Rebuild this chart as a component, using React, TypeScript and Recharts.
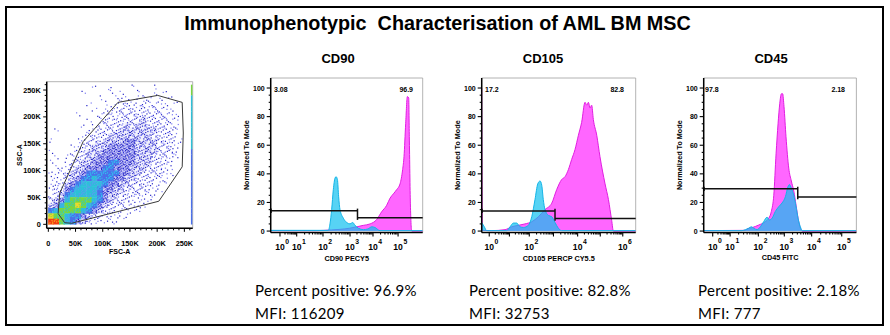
import React from 'react';
import {
  ScatterChart,
  Scatter,
  ComposedChart,
  Area,
  XAxis,
  YAxis,
  ReferenceLine,
  ReferenceArea,
} from 'recharts';

const FONT = '"Liberation Sans", Arial, sans-serif';

// FSC-A vs SSC-A density, read cell by cell (10K x 10K cells, level 0-9)
// rows go from SSC-A 255K (top) down to 5K, columns from FSC-A 5K to 255K
const DENSITY_ROWS = [
  '00000000100100010001000000',
  '00000010000101001001010000',
  '00000000010011101110101000',
  '00000001001011211211110100',
  '00000000101112121212111000',
  '00000100011212222222211100',
  '00000001012122222322221100',
  '00000010112222323322221100',
  '01000001122223333333222100',
  '00000011222333333332222100',
  '10000112223333443333222110',
  '00001122333444443333222100',
  '10001123334444443333222100',
  '01011223344444443332221100',
  '10012233444554443332221000',
  '01112334445544433322211000',
  '11123345555554433222211000',
  '11123455655544332222110000',
  '12134566665443322221110000',
  '12245666654433222211100000',
  '12356666654332222111000000',
  '23467777654322211110000000',
  '34677876543222111100000000',
  '56777765432211111000000000',
  '87765543221111100000000000',
  '99765432111110000000000000',
];
// events piled up on the FSC-A max channel, same rows
const EDGE_LEVELS = [7, 7, 6, 6, 6, 6, 6, 6, 6, 6, 6, 6, 5, 5, 5, 5, 5, 5, 5, 5, 5, 5, 5, 5, 5, 5];

const GATE = [
  { x: 21000, y: 58000 },
  { x: 64000, y: 154000 },
  { x: 128000, y: 227000 },
  { x: 201000, y: 240000 },
  { x: 246000, y: 227000 },
  { x: 248000, y: 170000 },
  { x: 246000, y: 107000 },
  { x: 203000, y: 43000 },
  { x: 43000, y: 2000 },
  { x: 30000, y: 3000 },
  { x: 18000, y: 20000 },
  { x: 21000, y: 58000 },
];

const SCATTER_MAJOR = [0, 50000, 100000, 150000, 200000, 250000];
const SCATTER_LABELS = ['0', '50K', '100K', '150K', '200K', '250K'];

// histograms: [channel, % of mode]
const CD90_SAMPLE = [
  [0, 0.3], [100, 0.3], [300, 0.3], [400, 0.8], [456, 1.2], [520, 2], [566, 3], [610, 4],
  [654, 5], [697, 8], [730, 13.5], [763, 18], [785, 23], [807, 26], [829, 29], [851, 33],
  [868, 43], [877, 52], [888, 75], [899, 94], [908, 93], [912, 66], [919, 19], [928, 0], [1000, 0],
];
const CD90_CONTROL = [
  [0, 0.5], [200, 0.5], [379, 0.5], [390, 5], [401, 15], [412, 29], [423, 37], [430, 38],
  [439, 36], [447, 24], [456, 15], [478, 9], [500, 6], [522, 5], [539, 6], [555, 4], [577, 2],
  [610, 1], [640, 1.5], [665, 3], [686, 2.5], [719, 0.3], [1000, 0.3],
];
const CD105_SAMPLE = [
  [0, 100], [4, 0.5], [65, 0.3], [152, 1], [195, 3], [238, 4], [281, 5], [325, 6.5], [368, 10],
  [411, 15], [455, 19.5], [487, 29], [519, 36], [541, 38], [563, 43], [584, 50], [606, 57],
  [628, 67], [649, 76], [671, 90], [682, 88], [693, 90], [703, 86], [714, 88], [725, 78],
  [747, 67], [768, 52], [801, 33], [823, 22], [844, 7.5], [855, 0], [1000, 0],
];
const CD105_CONTROL = [
  [0, 6], [17, 3], [32, 0.3], [162, 0.3], [184, 3], [206, 5.6], [227, 5.6], [249, 3], [271, 2.5],
  [303, 4], [325, 10], [346, 22], [364, 33], [379, 35], [390, 32], [400, 22], [411, 15],
  [433, 11], [455, 10], [476, 6], [498, 2], [519, 0.3], [1000, 0.3],
];
const CD45_SAMPLE = [
  [0, 0.3], [273, 0.5], [284, 1.5], [317, 2.4], [360, 4.2], [404, 6.6], [426, 9], [443, 13.7],
  [459, 25], [474, 54], [487, 75], [498, 89], [509, 96], [517, 96], [526, 87], [539, 66],
  [557, 44], [574, 35], [590, 28], [605, 18], [618, 9], [633, 2], [644, 0], [1000, 0],
];
const CD45_CONTROL = [
  [0, 0.3], [250, 0.3], [273, 1], [295, 2], [312, 3], [328, 2], [349, 1], [371, 3], [393, 6.6],
  [415, 9.7], [430, 7.8], [448, 9], [469, 13.7], [491, 17], [513, 19.6], [535, 24], [552, 31],
  [561, 32.5], [574, 30], [590, 25], [605, 17], [618, 9], [633, 3], [648, 0.3], [1000, 0.3],
];

// decade positions on the biexponential axis (channel units)
const CD90_DECADES = [61, 171, 344, 522, 673, 838];
const CD105_DECADES = [49, 180, 309, 466, 623, 770, 916];
const CD45_DECADES = [59, 173, 358, 528, 707, 904];

const Y_MAJOR = [0, 20, 40, 60, 80, 100];

// gates: [left level, right level, split channel]
const CD90_GATE = [14.2, 9.3, 571];
const CD105_GATE = [14.1, 8.7, 476];
const CD45_GATE = [29.5, 23.8, 616];

const PANEL_TITLES = ['CD90', 'CD105', 'CD45'];
const AXIS_TITLES = ['CD90 PECY5', 'CD105 PERCP CY5.5', 'CD45 FITC'];
const GATE_NEG = ['3.08', '17.2', '97.8'];
const GATE_POS = ['96.9', '82.8', '2.18'];
const PERCENT_POS = ['96.9%', '82.8%', '2.18%'];
const MFI = ['116209', '32753', '777'];

const toPoints = (rows: number[][]) => rows.map(([x, y]) => ({ x, y }));

// scatter geometry
const SC_X_DOMAIN = [-3000, 265300];
const SC_Y_DOMAIN = [-7400, 265500];
const SC_PLOT_W = 146;
const SC_PLOT_H = 146.6;
const CELL_W = (SC_PLOT_W * 10000) / (SC_X_DOMAIN[1] - SC_X_DOMAIN[0]);
const CELL_H = (SC_PLOT_H * 10000) / (SC_Y_DOMAIN[1] - SC_Y_DOMAIN[0]);

const densityCells: { x: number; y: number; level: number; row: number; col: number }[] = [];
DENSITY_ROWS.forEach((line, r) => {
  line.split('').forEach((ch, c) => {
    const level = Number(ch);
    if (level > 0) {
      densityCells.push({ x: c * 10000 + 5000, y: (25 - r) * 10000 + 5000, level, row: r, col: c });
    }
  });
});
const edgeCells = EDGE_LEVELS.map((level, r) => ({ x: 263500, y: (25 - r) * 10000 + 5000, level }));

const LEVEL_FILL = ['', '', '', '', '', '#4a70ea', '#2cc0d8', '#78d640', '#eed62a', '#f23c12'];
const LEVEL_SPECK = ['', '', '', '', '', '#2ec8ee', '#5a9cf0', '#38c8c0', '#90d840', '#f7a020'];
const SPECKLE = [
  [-0.3, -0.25], [0.28, 0.3], [0.05, -0.4], [-0.2, 0.22], [0.38, -0.08], [-0.42, 0.4],
  [0.02, 0.05], [0.4, 0.42], [-0.38, -0.05], [0.18, -0.2], [-0.1, -0.42], [0.3, 0.1],
];
const DOT_COUNT = [0, 2, 4, 7, 11];

const DensityCell = (props: any) => {
  const { cx, cy, payload } = props;
  const lv = payload.level;
  const seed = (payload.col * 7 + payload.row * 5) % SPECKLE.length;
  if (lv >= 5) {
    return (
      <g>
        <rect x={cx - CELL_W / 2 - 0.2} y={cy - CELL_H / 2 - 0.2} width={CELL_W + 0.4} height={CELL_H + 0.4} fill={LEVEL_FILL[lv]} />
        {[0, 1, 2, 3, 4, 5].map((k) => {
          const [fx, fy] = SPECKLE[(seed + k * 2) % SPECKLE.length];
          return <rect key={k} x={cx + fx * CELL_W - 0.6} y={cy + fy * CELL_H - 0.6} width={1.2} height={1.2} fill={LEVEL_SPECK[lv]} />;
        })}
      </g>
    );
  }
  const dots = [];
  for (let k = 0; k < DOT_COUNT[lv]; k++) {
    const [fx, fy] = SPECKLE[(seed + k) % SPECKLE.length];
    dots.push(
      <rect key={k} x={cx + fx * CELL_W - 0.6} y={cy + fy * CELL_H - 0.6} width={1.2} height={1.2} fill={k % 3 === 0 ? '#7b7bf2' : '#2626c8'} />
    );
  }
  return (
    <g>
      {lv >= 3 && <rect x={cx - CELL_W / 2} y={cy - CELL_H / 2} width={CELL_W} height={CELL_H} fill="#3a3ad8" fillOpacity={lv === 4 ? 0.26 : 0.08} />}
      {dots}
    </g>
  );
};

const EdgeCell = (props: any) => {
  const { cx, cy, payload } = props;
  return <rect x={cx - 0.8} y={cy - CELL_H / 2} width={1.6} height={CELL_H + 0.2} fill={LEVEL_FILL[payload.level]} />;
};

const scatterTicks: number[] = [];
for (let v = 0; v <= 260000; v += 10000) scatterTicks.push(v);

const ScatterXTick = (props: any) => {
  const { x, y, payload } = props;
  const i = SCATTER_MAJOR.indexOf(payload.value);
  return (
    <g>
      <line x1={x} x2={x} y1={y} y2={y + (i >= 0 ? 3.5 : 2)} stroke="#000" strokeWidth={1} />
      {i >= 0 && (
        <text x={x} y={y + 17.5} textAnchor="middle" fontSize={7.3} fontWeight="bold" fill="#000">
          {SCATTER_LABELS[i]}
        </text>
      )}
    </g>
  );
};

const ScatterYTick = (props: any) => {
  const { x, y, payload } = props;
  const i = SCATTER_MAJOR.indexOf(payload.value);
  return (
    <g>
      <line x1={x} x2={x - (i >= 0 ? 3.5 : 2)} y1={y} y2={y} stroke="#000" strokeWidth={1} />
      {i >= 0 && (
        <text x={x - 6} y={y + 2.6} textAnchor="end" fontSize={7.3} fontWeight="bold" fill="#000">
          {SCATTER_LABELS[i]}
        </text>
      )}
    </g>
  );
};

const yTicks: number[] = [];
for (let v = 0; v <= 100; v += 5) yTicks.push(v);

const HistYTick = (props: any) => {
  const { x, y, payload } = props;
  const major = Y_MAJOR.includes(payload.value);
  return (
    <g>
      <line x1={x} x2={x - (major ? 4 : 2)} y1={y} y2={y} stroke="#000" strokeWidth={1.1} />
      {major && (
        <text x={x - 6} y={y + 2.5} textAnchor="end" fontSize={7} fontWeight="bold" fill="#000">
          {payload.value}
        </text>
      )}
    </g>
  );
};

// minor ticks between decades, placed at log10(2..9)
const decadeTicks = (decades: number[]) => {
  const out: number[] = [...decades];
  for (let i = 0; i < decades.length - 1; i++) {
    for (let k = 2; k <= 9; k++) out.push(decades[i] + (decades[i + 1] - decades[i]) * Math.log10(k));
  }
  return out.sort((a, b) => a - b);
};

const makeLogTick = (decades: number[], labelStep: number) => (props: any) => {
  const { x, y, payload } = props;
  const e = decades.indexOf(payload.value);
  return (
    <g>
      <line x1={x} x2={x} y1={y} y2={y + (e >= 0 ? 4 : 2)} stroke="#000" strokeWidth={1.1} />
      {e >= 0 && e % labelStep === 0 && (
        <g fontWeight="bold" fill="#000">
          <text x={x} y={y + 17.5} textAnchor="middle" fontSize={8.6}>10</text>
          <text x={x + 5.3} y={y + 11} textAnchor="start" fontSize={6.8}>{e}</text>
        </g>
      )}
    </g>
  );
};

interface HistProps {
  left: number;
  width: number;
  sample: number[][];
  control: number[][];
  decades: number[];
  labelStep: number;
  gate: number[];
  xLabel: string;
}

const Histogram: React.FC<HistProps> = ({ left, width, sample, control, decades, labelStep, gate, xLabel }) => {
  const [gl, gr, split] = gate;
  return (
    <div style={{ position: 'absolute', left, top: 70 }}>
      <ComposedChart width={width} height={195} margin={{ top: 8, right: 4.3, left: 0, bottom: 4.5 }}>
        <XAxis
          type="number"
          dataKey="x"
          domain={[0, 1000]}
          allowDataOverflow
          ticks={decadeTicks(decades)}
          interval={0}
          tick={makeLogTick(decades, labelStep)}
          tickLine={false}
          tickSize={0}
          tickMargin={0}
          height={28}
          axisLine={{ stroke: '#000', strokeWidth: 1.5 }}
          label={{ value: xLabel, position: 'insideBottom', offset: 0, fontSize: 7.3, fontWeight: 'bold', fill: '#000' }}
        />
        <YAxis
          type="number"
          domain={[-1, 107]}
          allowDataOverflow
          ticks={yTicks}
          interval={0}
          tick={<HistYTick />}
          tickLine={false}
          tickSize={0}
          tickMargin={0}
          width={48.7}
          axisLine={{ stroke: '#000', strokeWidth: 1.5 }}
          label={{ value: 'Normalized To Mode', angle: -90, position: 'center', fontSize: 7.2, fontWeight: 'bold', fill: '#000' }}
        />
        <ReferenceArea x1={0} x2={1000} y1={-1} y2={107} fill="none" stroke="#a0a0a0" strokeWidth={0.8} />
        <Area
          data={toPoints(sample)}
          dataKey="y"
          type="monotone"
          stroke="#e01ee0"
          strokeWidth={1}
          fill="#ff66ff"
          fillOpacity={1}
          isAnimationActive={false}
        />
        <Area
          data={toPoints(control)}
          dataKey="y"
          type="monotone"
          stroke="#14b4e6"
          strokeWidth={1}
          fill="#10c0f0"
          fillOpacity={0.7}
          isAnimationActive={false}
        />
        <ReferenceLine segment={[{ x: 0, y: gl }, { x: split, y: gl }]} stroke="#111" strokeWidth={1.5} />
        <ReferenceLine segment={[{ x: split, y: gr }, { x: 1000, y: gr }]} stroke="#111" strokeWidth={1.5} />
        <ReferenceLine segment={[{ x: split, y: gr - 1.5 }, { x: split, y: gl + 1.5 }]} stroke="#111" strokeWidth={1.5} />
        <ReferenceLine segment={[{ x: 3, y: gl - 1.5 }, { x: 3, y: gl + 1.5 }]} stroke="#111" strokeWidth={1.2} />
      </ComposedChart>
    </div>
  );
};

const Txt: React.FC<{ x: number; y: number; size: number; bold?: boolean; anchor?: 'start' | 'middle' | 'end'; family?: string; spacing?: number; children: React.ReactNode }> = ({
  x, y, size, bold, anchor = 'start', family, spacing = 0, children,
}) => {
  const tx = anchor === 'middle' ? '-50%' : anchor === 'end' ? '-100%' : '0';
  return (
    <div
      style={{
        position: 'absolute',
        left: x,
        top: y,
        transform: `translate(${tx}, -50%)`,
        fontSize: size,
        fontWeight: bold ? 'bold' : 'normal',
        fontFamily: family || FONT,
        letterSpacing: spacing,
        lineHeight: 1,
        whiteSpace: 'pre',
        color: '#000',
      }}
    >
      {children}
    </div>
  );
};

const HIST_LAYOUT = [
  { left: 222, width: 205, title: 338, neg: 274, pos: 413, stats: 255 },
  { left: 433, width: 207, title: 543, neg: 485, pos: 624, stats: 469 },
  { left: 654.6, width: 205.7, title: 771, neg: 705, pos: 845, stats: 698 },
];
const HIST_DATA = [
  { sample: CD90_SAMPLE, control: CD90_CONTROL, decades: CD90_DECADES, labelStep: 1, gate: CD90_GATE },
  { sample: CD105_SAMPLE, control: CD105_CONTROL, decades: CD105_DECADES, labelStep: 2, gate: CD105_GATE },
  { sample: CD45_SAMPLE, control: CD45_CONTROL, decades: CD45_DECADES, labelStep: 1, gate: CD45_GATE },
];

export default function App() {
  return (
    <div style={{ position: 'absolute', left: 0, top: 0, width: 890, height: 335, background: '#fff', fontFamily: FONT }}>
      <div style={{ position: 'absolute', left: 5, top: 6, width: 879, height: 320, border: '2px solid #000', boxSizing: 'border-box' }} />
      <Txt x={437.5} y={24} size={19.8} bold anchor="middle">Immunophenotypic  Characterisation of AML BM MSC</Txt>

      <div style={{ position: 'absolute', left: -4, top: 70 }}>
        <ScatterChart width={204} height={190} margin={{ top: 11.7, right: 7.3, left: 0, bottom: 6.5 }}>
          <XAxis
            type="number"
            dataKey="x"
            domain={SC_X_DOMAIN}
            allowDataOverflow
            ticks={scatterTicks}
            interval={0}
            tick={<ScatterXTick />}
            tickLine={false}
            tickSize={0}
            tickMargin={0}
            height={25.2}
            axisLine={{ stroke: '#000', strokeWidth: 1.5 }}
            label={{ value: 'FSC-A', position: 'insideBottom', offset: 0, fontSize: 7, fontWeight: 'bold', fill: '#000' }}
          />
          <YAxis
            type="number"
            dataKey="y"
            domain={SC_Y_DOMAIN}
            allowDataOverflow
            ticks={scatterTicks}
            interval={0}
            tick={<ScatterYTick />}
            tickLine={false}
            tickSize={0}
            tickMargin={0}
            width={50.7}
            axisLine={{ stroke: '#000', strokeWidth: 1.5 }}
            label={{ value: 'SSC-A', angle: -90, position: 'center', dx: -2, fontSize: 7, fontWeight: 'bold', fill: '#000' }}
          />
          <ReferenceArea x1={SC_X_DOMAIN[0]} x2={SC_X_DOMAIN[1]} y1={SC_Y_DOMAIN[0]} y2={SC_Y_DOMAIN[1]} fill="none" stroke="#a0a0a0" strokeWidth={0.8} />
          <Scatter data={densityCells} shape={DensityCell} isAnimationActive={false} />
          <Scatter data={edgeCells} shape={EdgeCell} isAnimationActive={false} />
          <Scatter data={GATE} line={{ stroke: '#3a3a3a', strokeWidth: 1 }} lineType="joint" shape={() => <g />} isAnimationActive={false} />
        </ScatterChart>
      </div>

      {HIST_LAYOUT.map((l, i) => (
        <React.Fragment key={PANEL_TITLES[i]}>
          <Txt x={l.title} y={58} size={13} bold anchor="middle">{PANEL_TITLES[i]}</Txt>
          <Histogram left={l.left} width={l.width} xLabel={AXIS_TITLES[i]} {...HIST_DATA[i]} />
          <Txt x={l.neg} y={89} size={7} bold>{GATE_NEG[i]}</Txt>
          <Txt x={l.pos} y={89} size={7} bold anchor="end">{GATE_POS[i]}</Txt>
          <Txt x={l.stats} y={290} size={15} spacing={0.3} family="Lato, sans-serif">{`Percent positive: ${PERCENT_POS[i]}`}</Txt>
          <Txt x={l.stats} y={313} size={15} spacing={0.3} family="Lato, sans-serif">{`MFI: ${MFI[i]}`}</Txt>
        </React.Fragment>
      ))}
    </div>
  );
}
